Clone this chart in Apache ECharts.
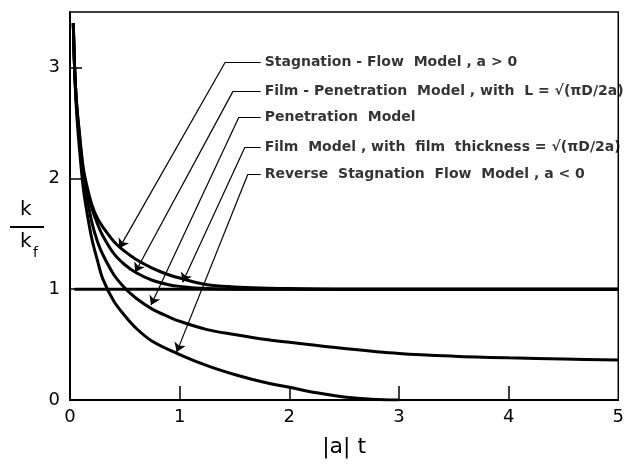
<!DOCTYPE html>
<html>
<head>
<meta charset="utf-8">
<script src="https://cdn.jsdelivr.net/npm/echarts@6/dist/echarts.min.js"></script>
<style>
  html, body { margin: 0; padding: 0; background: #fff; }
  #chart { width: 627px; height: 469px; }
</style>
</head>
<body>
<div id="chart"></div>
<script>
// |a| t values shared by the three upper curves
const tValues = [0.03, 0.042, 0.06, 0.085, 0.12, 0.15, 0.2, 0.25, 0.3, 0.4, 0.5, 0.6, 0.75, 0.9, 1.0, 1.25, 1.5, 1.75, 2.0, 2.5, 3.0, 3.5, 4.0, 4.5, 5.0]
const stagnation = [3.40, 3.00, 2.68, 2.42, 2.10, 1.95, 1.76, 1.64, 1.56, 1.43, 1.34, 1.27, 1.19, 1.13, 1.10, 1.04, 1.02, 1.01, 1.005, 1.0, 1.0, 1.0, 1.0, 1.0, 1.0]
const filmPenetration = [3.40, 3.00, 2.67, 2.40, 2.07, 1.92, 1.73, 1.59, 1.48, 1.32, 1.22, 1.15, 1.08, 1.04, 1.025, 1.005, 1.0, 1.0, 1.0, 1.0, 1.0, 1.0, 1.0, 1.0, 1.0]
const penetration = [3.40, 3.00, 2.65, 2.36, 2.02, 1.85, 1.60, 1.43, 1.31, 1.13, 1.01, 0.92, 0.82, 0.75, 0.71, 0.635, 0.59, 0.55, 0.52, 0.465, 0.42, 0.395, 0.38, 0.37, 0.36]

// reverse stagnation flow runs into the axis near |a| t = 2.7
const tReverse = [0.03, 0.042, 0.06, 0.085, 0.12, 0.15, 0.2, 0.25, 0.3, 0.4, 0.5, 0.6, 0.75, 1.0, 1.25, 1.5, 1.75, 2.0, 2.25, 2.5, 2.75, 3.0]
const reverseStagnation = [3.40, 2.98, 2.60, 2.28, 1.92, 1.72, 1.45, 1.26, 1.09, 0.89, 0.76, 0.65, 0.53, 0.41, 0.31, 0.23, 0.165, 0.115, 0.065, 0.028, 0.007, 0.0]

// film model: constant k / kf
const tFilm = [0.04, 5.0]
const film = [1.0, 1.0]

const xTicks = [0, 1, 2, 3, 4, 5]
const yTicks = [0, 1, 2, 3]

// annotations: label text, leader line (label end -> corner -> arrow tip) in data units
const labels = [
  'Stagnation - Flow  Model , a > 0',
  'Film - Penetration  Model , with  L = √(πD/2a)',
  'Penetration  Model',
  'Film  Model , with  film  thickness = √(πD/2a)',
  'Reverse  Stagnation  Flow  Model , a < 0'
]
const labelX = 1.739
const labelY = [3.045, 2.784, 2.55, 2.279, 2.036]
const cornerX = [1.414, 1.486, 1.54, 1.595, 1.622]
const tipX = [0.45, 0.595, 0.739, 1.027, 0.973]
const tipY = [1.37, 1.153, 0.856, 1.063, 0.432]

function pairs(xs, ys) {
  return xs.map((x, i) => [x, ys[i]])
}

function curve(name, xs, ys) {
  return {
    name: name,
    type: 'line',
    data: pairs(xs, ys),
    showSymbol: false,
    smooth: 0.35,
    lineStyle: { color: '#000', width: 3 },
    z: 3
  }
}

const chart = echarts.init(document.getElementById('chart'), null, { renderer: 'canvas' })
chart.setOption({
  backgroundColor: '#fff',
  animation: false,
  textStyle: { fontFamily: 'DejaVu Sans', color: '#000' },
  grid: {
    left: 70,
    right: 1,
    top: 12,
    bottom: 69,
    show: true,
    borderColor: '#000',
    borderWidth: 1.5
  },
  xAxis: {
    type: 'value',
    min: 0,
    max: 5,
    interval: 1,
    name: '|a| t',
    nameLocation: 'middle',
    nameGap: 36,
    nameTextStyle: { fontSize: 22, color: '#000', fontFamily: 'DejaVu Sans' },
    axisLine: { onZero: false, lineStyle: { color: '#000', width: 2 } },
    axisTick: { inside: true, length: 14, lineStyle: { color: '#000', width: 1.5 }, customValues: xTicks.slice(1, 5) },
    axisLabel: { fontSize: 18, color: '#000', margin: 8, customValues: xTicks },
    splitLine: { show: false }
  },
  yAxis: {
    type: 'value',
    min: 0,
    max: 3.5,
    interval: 1,
    axisLine: { onZero: false, lineStyle: { color: '#000', width: 2 } },
    axisTick: { inside: true, length: 12, lineStyle: { color: '#000', width: 1.5 }, customValues: yTicks.slice(1) },
    axisLabel: { fontSize: 18, color: '#000', margin: 10, customValues: yTicks },
    splitLine: { show: false }
  },
  graphic: [
    { type: 'text', left: 20, top: 200, style: { text: 'k', fontSize: 20, fontFamily: 'DejaVu Sans', fill: '#000' } },
    { type: 'line', shape: { x1: 10, y1: 227, x2: 44, y2: 227 }, style: { stroke: '#000', lineWidth: 2 } },
    { type: 'text', left: 20, top: 232, style: { text: 'k', fontSize: 20, fontFamily: 'DejaVu Sans', fill: '#000' } },
    { type: 'text', left: 33, top: 246, style: { text: 'f', fontSize: 14, fontFamily: 'DejaVu Sans', fill: '#000' } }
  ],
  series: [
    curve('Stagnation', tValues, stagnation),
    curve('Film-Penetration', tValues, filmPenetration),
    curve('Penetration', tValues, penetration),
    curve('Reverse Stagnation', tReverse, reverseStagnation),
    curve('Film', tFilm, film),
    {
      // short horizontal stubs next to each label
      type: 'lines',
      coordinateSystem: 'cartesian2d',
      symbol: 'none',
      lineStyle: { color: '#000', width: 1.2, opacity: 1 },
      data: labels.map((t, i) => ({ coords: [[labelX, labelY[i]], [cornerX[i], labelY[i]]] })),
      z: 4
    },
    {
      // diagonal leaders ending in arrow heads on the curves
      type: 'lines',
      coordinateSystem: 'cartesian2d',
      symbol: ['none', 'arrow'],
      symbolSize: 9,
      lineStyle: { color: '#000', width: 1.2, opacity: 1 },
      data: labels.map((t, i) => ({ coords: [[cornerX[i], labelY[i]], [tipX[i], tipY[i]]] })),
      z: 4
    },
    {
      type: 'scatter',
      symbolSize: 0,
      data: labels.map((t, i) => [labelX, labelY[i], t]),
      label: {
        show: true,
        position: 'right',
        distance: 4,
        formatter: p => p.data[2],
        fontSize: 14,
        fontWeight: 'bold',
        fontFamily: 'DejaVu Sans',
        color: '#000'
      },
      silent: true,
      z: 5
    }
  ]
})
</script>
</body>
</html>
